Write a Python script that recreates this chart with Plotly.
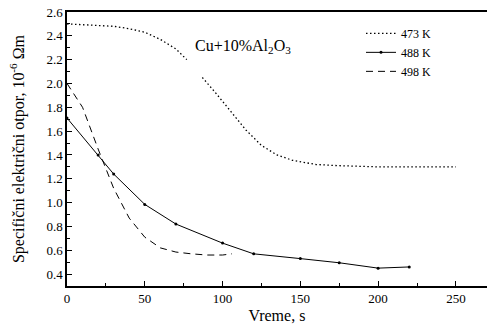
import plotly.graph_objects as go

# Data
x_473 = [0, 10, 20, 30, 40, 50, 60, 70, 77, None, 87, 95, 105, 115, 125, 135, 145, 160, 175, 200, 225, 250]
y_473 = [2.50, 2.495, 2.49, 2.48, 2.46, 2.43, 2.37, 2.29, 2.20, None, 2.05, 1.93, 1.77, 1.61, 1.48, 1.40, 1.355, 1.32, 1.31, 1.30, 1.30, 1.30]

x_488 = [0, 20, 30, 50, 70, 100, 120, 150, 175, 200, 220]
y_488 = [1.71, 1.40, 1.24, 0.985, 0.82, 0.66, 0.57, 0.53, 0.495, 0.45, 0.46]

x_498 = [0, 10, 20, 30, 40, 50, 60, 70, 80, 90, 100, 106]
y_498 = [2.0, 1.80, 1.45, 1.12, 0.87, 0.71, 0.62, 0.585, 0.57, 0.56, 0.56, 0.57]

names = ["473 K", "488 K", "498 K"]
x_ticks = [0, 50, 100, 150, 200, 250]
x_tick_labels = ["0", "50", "100", "150", "200", "250"]
y_ticks = [0.4, 0.6, 0.8, 1.0, 1.2, 1.4, 1.6, 1.8, 2.0, 2.2, 2.4, 2.6]

FONT = "Liberation Serif, Times New Roman, Times, serif"

fig = go.Figure()
fig.add_trace(go.Scatter(x=x_473, y=y_473, name=names[0], mode="lines",
                         line=dict(color="black", width=1.3, dash="1.5px,2.5px"),
                         connectgaps=False))
fig.add_trace(go.Scatter(x=x_488, y=y_488, name=names[1], mode="lines+markers",
                         line=dict(color="black", width=1),
                         marker=dict(color="black", size=3)))
fig.add_trace(go.Scatter(x=x_498, y=y_498, name=names[2], mode="lines",
                         line=dict(color="black", width=1, dash="7px,5px")))

fig.add_annotation(text="Cu+10%Al<sub>2</sub>O<sub>3</sub>", x=0.42, y=0.915,
                   xref="paper", yref="paper", showarrow=False,
                   font=dict(family=FONT, size=16, color="black"))

fig.update_layout(
    width=487, height=329,
    margin=dict(l=67, r=0, t=12, b=43),
    paper_bgcolor="white", plot_bgcolor="white",
    font=dict(family=FONT, color="black", size=13),
    showlegend=True,
    legend=dict(x=0.70, y=0.975, xanchor="left", yanchor="top",
                bgcolor="rgba(0,0,0,0)", font=dict(family=FONT, size=12),
                tracegroupgap=0, itemwidth=30),
    xaxis=dict(range=[0, 270], tickvals=x_ticks, ticktext=x_tick_labels,
               showgrid=False, zeroline=False, showline=True, linecolor="black",
               linewidth=1.5, mirror=True, ticks="inside", ticklen=5,
               tickcolor="black",
               minor=dict(dtick=25, ticks="inside", ticklen=3, tickcolor="black"),
               title=dict(text="Vreme, s", font=dict(family=FONT, size=16), standoff=4),
               tickfont=dict(family=FONT, size=13)),
    yaxis=dict(range=[0.3, 2.6], tickvals=y_ticks, tickformat=".1f",
               showgrid=False, zeroline=False, showline=True, linecolor="black",
               linewidth=1.5, ticks="inside", ticklen=5, tickcolor="black",
               minor=dict(dtick=0.1, tick0=0.3, ticks="inside", ticklen=3, tickcolor="black"),
               title=dict(text="Specifični električni otpor, 10<sup>-6</sup> Ωm",
                          font=dict(family=FONT, size=16), standoff=18),
               tickfont=dict(family=FONT, size=13)),
)

fig.write_html("out.html")
